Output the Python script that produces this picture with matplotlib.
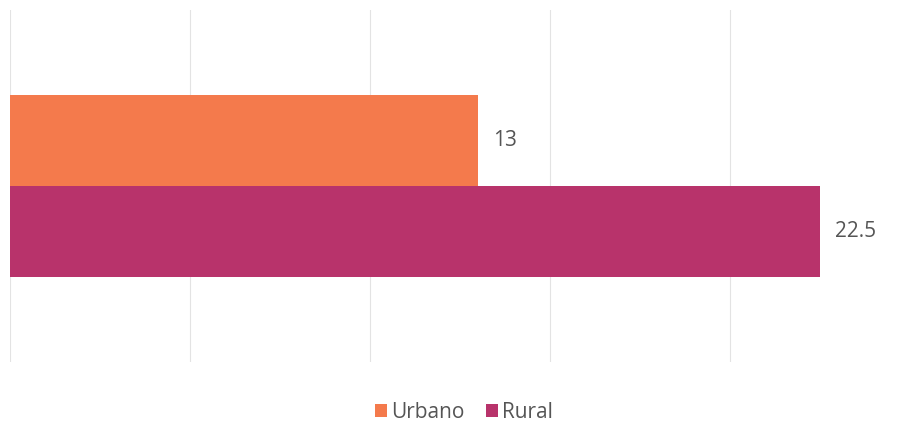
import matplotlib.pyplot as plt

series = ['Urbano', 'Rural']
values = [13, 22.5]
colors = ['#F47A4C', '#B8336B']
ticks = [0, 5, 10, 15, 20]

plt.rcParams['font.family'] = ['Open Sans', 'DejaVu Sans']

fig = plt.figure(figsize=(9.02, 4.21), dpi=100)
ax = fig.add_axes([10 / 902, 1 - 362 / 421, 890 / 902, 352 / 421])

bar_h = 91 / 352
centers = [0.5 + bar_h / 2, 0.5 - bar_h / 2]
for name, val, col, yc in zip(series, values, colors, centers):
    ax.barh(yc, val, height=bar_h, color=col, label=name, zorder=2)
    ax.annotate(f'{val:g}', (val, yc), xytext=(11, 0), textcoords='offset points',
                va='center', ha='left', fontsize=15, color='#555555')

ax.set_xlim(0, 890 / 36)
ax.set_ylim(0, 1)
ax.set_xticks(ticks)
ax.xaxis.grid(True, color='#E3E3E3', linewidth=0.8, zorder=0)
ax.tick_params(length=0, labelbottom=False, labelleft=False)
ax.set_yticks([])
for s in ax.spines.values():
    s.set_visible(False)

fig.legend(loc='center', bbox_to_anchor=(464 / 902, 1 - 412 / 421), ncol=2, frameon=False,
           fontsize=15, handlelength=0.6, handleheight=0.6, handletextpad=0.2,
           columnspacing=1.0, labelcolor='#555555')

fig.savefig('out.png', dpi=100, facecolor='white')
